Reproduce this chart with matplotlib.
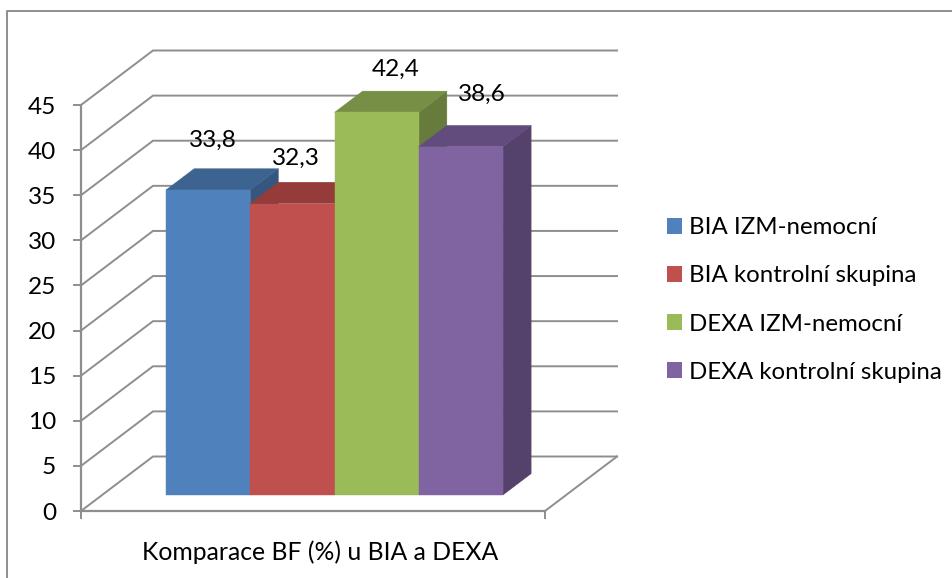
import matplotlib
matplotlib.use("Agg")
import matplotlib.pyplot as plt
from matplotlib.lines import Line2D
from matplotlib.patches import Patch, Polygon

plt.rcParams["font.family"] = ["Lato", "DejaVu Sans"]

# Chart data
series = ["BIA IZM-nemocní", "BIA kontrolní skupina", "DEXA IZM-nemocní", "DEXA kontrolní skupina"]
values = [33.8, 32.3, 42.4, 38.6]
value_labels = ["33,8", "32,3", "42,4", "38,6"]
y_ticks = [0, 5, 10, 15, 20, 25, 30, 35, 40, 45]
category = "Komparace BF (%) u BIA a DEXA"

# Face colours of each box: front, top, side
front_colors = ["#4F81BD", "#C0504D", "#9BBB59", "#8064A2"]
top_colors = ["#3D6391", "#953C3A", "#768E45", "#624C7D"]
side_colors = ["#35567E", "#823432", "#677C3C", "#54416C"]

# Label displacement from each box's top centre, in pixels
label_shift = [(5, 50), (3, 45), (19, 43), (21, 52)]

W, H = 953, 578
DPI = 100
GRAY = "#8E8E8E"
LW = 1.4
FS = 17.6
LEGEND_FS = 17.25

# Oblique projection: depth 0..1 moves a point right and up
DEPTH_X = 72 / 464
DEPTH_Y = 54.5 / (406 / 45)
FLOOR_T = 0.295
BOX_T = 0.39
GROUP_LEFT = 0.1375
BOX_W = 84.25 / 464


def project(x, v, t):
    return (x + t * DEPTH_X, v + t * DEPTH_Y)


fig = plt.figure(figsize=(W / DPI, H / DPI), dpi=DPI, facecolor="white")
ax = fig.add_axes([81 / W, 1 - 511 / H, 464 / W, 406 / H])
ax.set_xlim(0, 1)
ax.set_ylim(0, 45)
ax.patch.set_visible(False)

for side in ("top", "right"):
    ax.spines[side].set_visible(False)
for side in ("left", "bottom"):
    ax.spines[side].set_color(GRAY)
    ax.spines[side].set_linewidth(LW + 0.2)

ax.set_yticks(y_ticks)
ax.set_xticks([0, 1], labels=["", ""])
ax.tick_params(axis="both", color=GRAY, width=LW, length=5.8, labelsize=FS, labelcolor="black")
ax.tick_params(axis="y", pad=12)
ax.set_xlabel(category, fontsize=FS + 0.2, labelpad=12, color="black", x=0.515)

# Wall and floor grid
for v in y_ticks:
    pts = [project(0, v, 0), project(0, v, 1), project(1, v, 1)]
    ax.plot(*zip(*pts), color=GRAY, lw=LW, clip_on=False, zorder=1, solid_joinstyle="miter")
ax.plot(*zip(project(1, 0, 0), project(1, 0, 1)), color=GRAY, lw=LW, clip_on=False, zorder=1)

# Boxes run left to right so each one overlaps its neighbour
for i, v in enumerate(values):
    x0 = GROUP_LEFT + i * BOX_W
    x1 = x0 + BOX_W
    t0, t1 = FLOOR_T, FLOOR_T + BOX_T
    z = 3 + i
    side_face = [project(x1, 0, t0), project(x1, 0, t1), project(x1, v, t1), project(x1, v, t0)]
    top_face = [project(x0, v, t0), project(x1, v, t0), project(x1, v, t1), project(x0, v, t1)]
    front_face = [project(x0, 0, t0), project(x1, 0, t0), project(x1, v, t0), project(x0, v, t0)]
    for face, col in ((side_face, side_colors[i]), (top_face, top_colors[i]), (front_face, front_colors[i])):
        ax.add_patch(Polygon(face, closed=True, facecolor=col, edgecolor=col, lw=0.3, clip_on=False, zorder=z))
    ax.annotate(
        value_labels[i],
        xy=project((x0 + x1) / 2, v, t0),
        xytext=(label_shift[i][0] * 72 / DPI, label_shift[i][1] * 72 / DPI),
        textcoords="offset points",
        ha="center",
        va="center",
        fontsize=FS,
        color="black",
        zorder=10,
    )

# Legend to the right of the plot
handles = [Patch(facecolor=c, edgecolor="none", label=s) for c, s in zip(front_colors, series)]
fig.legend(
    handles=handles,
    loc="center left",
    bbox_to_anchor=(667 / W, 1 - 300 / H),
    bbox_transform=fig.transFigure,
    frameon=False,
    fontsize=LEGEND_FS,
    borderaxespad=0,
    borderpad=0,
    handlelength=0.628,
    handleheight=0.628,
    handletextpad=0.29,
    labelspacing=1.13,
)

# Outer frame, open at the right and bottom
fig.add_artist(Line2D([7.5 / W, 7.5 / W, 1], [0, 1 - 10.5 / H, 1 - 10.5 / H], color=GRAY, lw=1.4, transform=fig.transFigure))

fig.savefig("out.png", dpi=DPI, facecolor="white")
